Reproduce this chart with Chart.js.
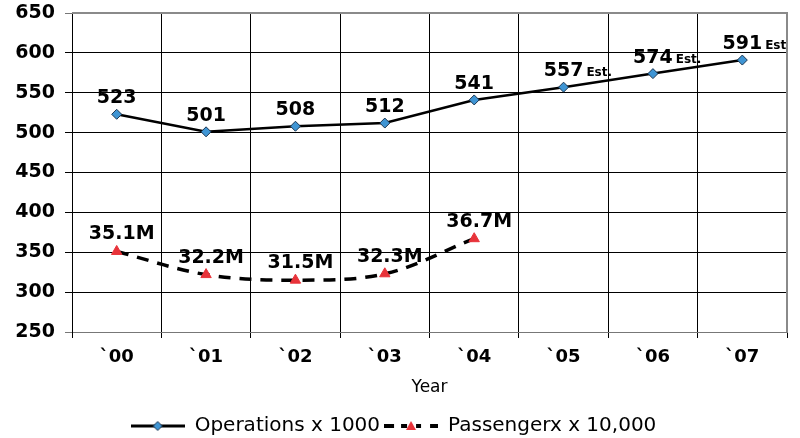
<!DOCTYPE html>
<html>
<head>
<meta charset="utf-8">
<script src="https://cdn.jsdelivr.net/npm/chart.js@4/dist/chart.umd.min.js"></script>
<style>
  html, body { margin: 0; padding: 0; background: #fff; }
  #wrap { width: 800px; height: 438px; }
</style>
</head>
<body>
<div id="wrap"><canvas id="grafico"></canvas></div>
<script>
//Datos
    var anios = ["`00", "`01", "`02", "`03", "`04", "`05", "`06", "`07"];
    var operaciones = [523, 501, 508, 512, 541, 557, 574, 591];
    var opEtiquetas = ["523", "501", "508", "512", "541", "557", "574", "591"];
    var opSufijos = ["", "", "", "", "", "Est.", "Est.", "Est"];
    var pasajeros = [351, 322, 315, 323, 367];
    var pasEtiquetas = ["35.1M", "32.2M", "31.5M", "32.3M", "36.7M"];
    var yTicks = [250, 300, 350, 400, 450, 500, 550, 600, 650];

//Iconos de la leyenda (línea + marcador)
    function iconoLeyenda(tipo){
        var c = document.createElement("canvas");
        c.width = 54; c.height = 14;
        var x = c.getContext("2d");
        x.strokeStyle = "#000";
        if(tipo == "op"){
            x.lineWidth = 3;
            x.beginPath(); x.moveTo(0, 7); x.lineTo(54, 7); x.stroke();
            x.fillStyle = "#3f95d4"; x.strokeStyle = "#1b3550"; x.lineWidth = 1;
            x.beginPath(); x.moveTo(27, 2.5); x.lineTo(31.5, 7); x.lineTo(27, 11.5); x.lineTo(22.5, 7); x.closePath();
            x.fill(); x.stroke();
        }else{
            x.lineWidth = 4;
            x.beginPath(); x.moveTo(0, 7); x.lineTo(10, 7); x.moveTo(17, 7); x.lineTo(23, 7);
            x.moveTo(32, 7); x.lineTo(37, 7); x.moveTo(46, 7); x.lineTo(54, 7); x.stroke();
            x.fillStyle = "#e8333a";
            x.beginPath(); x.moveTo(27, 2); x.lineTo(32, 11); x.lineTo(22, 11); x.closePath(); x.fill();
        }
        return c;
    }

//Plugin: etiquetas de datos y borde gris
    var etiquetas = {
        id: "etiquetas",
        afterDatasetsDraw: function(chart){
            var ctx = chart.ctx;
            ctx.save();
            ctx.fillStyle = "#000";
            ctx.textBaseline = "alphabetic";
            //Operaciones (número centrado, "Est." a la derecha)
            chart.getDatasetMeta(0).data.forEach(function(p, i){
                ctx.font = "bold 19px 'DejaVu Sans'";
                var w1 = ctx.measureText(opEtiquetas[i]).width;
                var x0 = p.x - w1 / 2;
                var y0 = p.y - 11;
                ctx.textAlign = "left";
                ctx.fillText(opEtiquetas[i], x0, y0);
                if(opSufijos[i]){
                    ctx.font = "bold 12px 'DejaVu Sans'";
                    ctx.fillText(opSufijos[i], x0 + w1 + 3, y0);
                }
            });
            //Pasajeros
            ctx.font = "bold 19px 'DejaVu Sans'";
            ctx.textAlign = "center";
            chart.getDatasetMeta(1).data.forEach(function(p, i){
                ctx.fillText(pasEtiquetas[i], p.x + 5, p.y - 12);
            });
            //Borde gris superior y derecho
            var a = chart.chartArea;
            ctx.strokeStyle = "#8a8a8a";
            ctx.lineWidth = 2;
            ctx.beginPath();
            ctx.moveTo(a.left, a.top); ctx.lineTo(a.right, a.top); ctx.lineTo(a.right, a.bottom);
            ctx.stroke();
            ctx.restore();
        }
    };

//Gráfico
    Chart.defaults.font.family = "'DejaVu Sans'";
    Chart.defaults.color = "#000";

    var grafico = new Chart(document.getElementById("grafico"), {
        type: "line",
        data: {
            labels: anios,
            datasets: [
                {
                    label: "Operations x 1000",
                    data: operaciones,
                    borderColor: "#000", borderWidth: 2.5,
                    pointStyle: "rectRot", pointRadius: 5,
                    pointBackgroundColor: "#3f95d4", pointBorderColor: "#1b3550", pointBorderWidth: 1,
                    tension: 0
                },
                {
                    label: "Passengerx x 10,000",
                    data: pasajeros,
                    borderColor: "#000", borderWidth: 3.5, borderDash: [12, 9],
                    pointStyle: "triangle", pointRadius: 6,
                    pointBackgroundColor: "#e8333a", pointBorderColor: "#e8333a", pointBorderWidth: 1,
                    tension: 0.35
                }
            ]
        },
        options: {
            responsive: true,
            maintainAspectRatio: false,
            animation: false,
            layout: { padding: { left: 0, right: 13, top: 13, bottom: -8 } },
            plugins: {
                tooltip: { enabled: false },
                legend: {
                    position: "bottom",
                    labels: {
                        usePointStyle: true,
                        pointStyleWidth: 54,
                        padding: 4,
                        font: { size: 20 },
                        color: "#000",
                        generateLabels: function(chart){
                            return chart.data.datasets.map(function(ds, i){
                                return {
                                    text: ds.label,
                                    pointStyle: iconoLeyenda(i == 0 ? "op" : "pas"),
                                    datasetIndex: i,
                                    lineWidth: 0,
                                    fontColor: "#000"
                                };
                            });
                        }
                    }
                }
            },
            scales: {
                x: {
                    offset: true,
                    grid: { offset: true, color: "#000", lineWidth: 1, tickLength: 6 },
                    border: { color: "#777", width: 1 },
                    ticks: { font: { size: 18, weight: "bold" }, padding: 9 },
                    title: { display: true, text: "Year", font: { size: 17 }, padding: { top: 0, bottom: 14 } },
                    afterFit: function(s){ s.height = 80; s.paddingLeft = 0; s.paddingRight = 0; }
                },
                y: {
                    min: 250, max: 650,
                    afterBuildTicks: function(s){ s.ticks = yTicks.map(function(v){ return {value: v}; }); },
                    grid: {
                        color: function(c){ return (c.tick && (c.tick.value == 650 || c.tick.value == 250)) ? "#777" : "#000"; },
                        lineWidth: 1, tickLength: 7
                    },
                    border: { color: "#000", width: 1 },
                    ticks: { font: { size: 19, weight: "bold" }, padding: 10 },
                    afterFit: function(s){ s.width = 72; s.paddingTop = 0; s.paddingBottom = 0; }
                }
            }
        },
        plugins: [etiquetas]
    });
</script>
</body>
</html>
